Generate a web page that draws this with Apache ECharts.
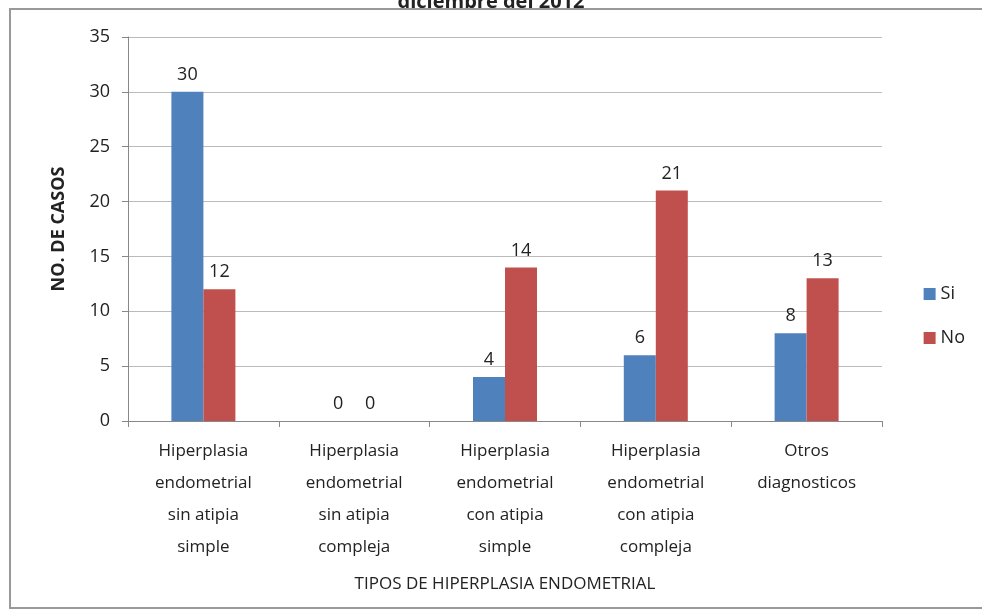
<!DOCTYPE html>
<html>
<head>
<meta charset="utf-8">
<script src="https://cdn.jsdelivr.net/npm/echarts@6/dist/echarts.min.js"></script>
<style>
  html, body { margin: 0; padding: 0; background: #fff; }
  #chart { width: 982px; height: 613px; }
</style>
</head>
<body>
<div id="chart"></div>
<script>
const categories = [
  'Hiperplasia\nendometrial\nsin atipia\nsimple',
  'Hiperplasia\nendometrial\nsin atipia\ncompleja',
  'Hiperplasia\nendometrial\ncon atipia\nsimple',
  'Hiperplasia\nendometrial\ncon atipia\ncompleja',
  'Otros\ndiagnosticos'
];
const siValues = [30, 0, 4, 6, 8];
const noValues = [12, 0, 14, 21, 13];

const font = 'Open Sans';
const myChart = echarts.init(document.getElementById('chart'));
const labelStyle = {
  show: true,
  position: 'top',
  color: '#222',
  fontSize: 18,
  fontFamily: font,
  distance: 8
};

const option = {
  animation: false,
  title: {
    text: 'diciembre del 2012',
    left: 'center',
    top: -13,
    textStyle: { fontSize: 20, fontWeight: 'bold', color: '#222', fontFamily: font }
  },
  graphic: [
    {
      type: 'rect',
      shape: { x: 10, y: 9, width: 980, height: 599 },
      style: { fill: null, stroke: '#999', lineWidth: 2 },
      z: -1
    }
  ],
  legend: {
    orient: 'vertical',
    right: 12,
    top: 280,
    itemGap: 26,
    itemWidth: 12,
    itemHeight: 12,
    icon: 'rect',
    textStyle: { fontSize: 18, fontFamily: font, color: '#222' },
    data: ['Si', 'No']
  },
  grid: { left: 128, right: 100, top: 37, bottom: 192, containLabel: false },
  xAxis: {
    type: 'category',
    data: categories,
    name: 'TIPOS DE HIPERPLASIA ENDOMETRIAL',
    nameLocation: 'middle',
    nameGap: 155,
    nameTextStyle: { fontSize: 17, fontFamily: font, color: '#222' },
    axisLine: { lineStyle: { color: '#888' } },
    axisTick: { show: true, alignWithLabel: false, length: 6, lineStyle: { color: '#888' } },
    axisLabel: { fontSize: 17, fontFamily: font, color: '#222', lineHeight: 32, margin: 14, interval: 0 }
  },
  yAxis: {
    type: 'value',
    min: 0,
    max: 35,
    interval: 5,
    name: 'NO. DE CASOS',
    nameLocation: 'middle',
    nameGap: 60,
    nameTextStyle: { fontSize: 18, fontWeight: 'bold', fontFamily: font, color: '#222' },
    axisLine: { show: true, lineStyle: { color: '#888' } },
    axisTick: { show: true, length: 6, lineStyle: { color: '#888' } },
    axisLabel: { fontSize: 18, fontFamily: font, color: '#222', margin: 18 },
    splitLine: { lineStyle: { color: '#bbb' } }
  },
  series: [
    {
      name: 'Si',
      type: 'bar',
      data: siValues,
      barWidth: 32,
      barGap: '0%',
      itemStyle: { color: '#4F81BD' },
      label: labelStyle
    },
    {
      name: 'No',
      type: 'bar',
      data: noValues,
      barWidth: 32,
      itemStyle: { color: '#C0504D' },
      label: labelStyle
    }
  ]
};

myChart.setOption(option);
window.onresize = () => {
  myChart.resize();
};
</script>
</body>
</html>
